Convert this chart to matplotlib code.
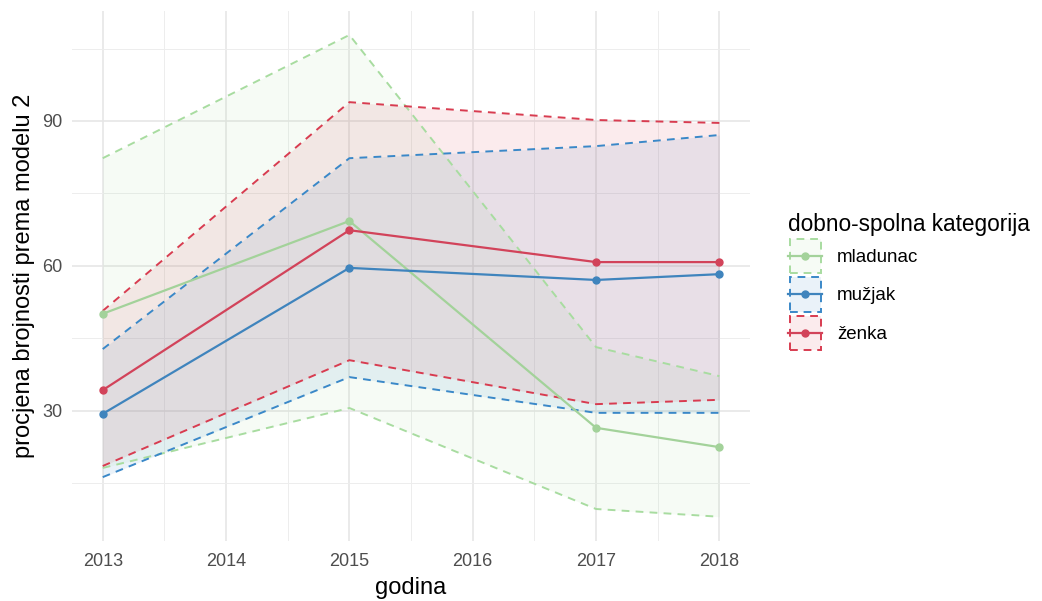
import numpy as np
import matplotlib.pyplot as plt
from matplotlib.patches import Rectangle
from matplotlib.lines import Line2D
from matplotlib.colors import to_rgba

plt.rcParams["font.family"] = ["Liberation Sans", "DejaVu Sans"]

# =========================
# Data
# =========================
years = [2013, 2015, 2017, 2018]
categories = ["mladunac", "mužjak", "ženka"]

mladunac_mean = [50.1, 69.3, 26.5, 22.5]
mladunac_low = [18.2, 30.6, 9.7, 8.1]
mladunac_high = [82.3, 107.8, 43.2, 37.2]

muzjak_mean = [29.4, 59.6, 57.1, 58.3]
muzjak_low = [16.3, 37.0, 29.6, 29.6]
muzjak_high = [42.8, 82.3, 84.8, 87.1]

zenka_mean = [34.3, 67.4, 60.8, 60.8]
zenka_low = [18.6, 40.5, 31.4, 32.3]
zenka_high = [50.7, 93.9, 90.2, 89.6]

means = [mladunac_mean, muzjak_mean, zenka_mean]
lows = [mladunac_low, muzjak_low, zenka_low]
highs = [mladunac_high, muzjak_high, zenka_high]

line_colors = ["#a3d29a", "#3f84bd", "#d2435a"]
dash_colors = ["#a8dca0", "#3a88c8", "#d83c50"]

x_ticks = [2013, 2014, 2015, 2016, 2017, 2018]
y_ticks = [30, 60, 90]


class RibbonKey:
    """Legend key: dashed ribbon box with line + point through the middle."""

    def __init__(self, line_color, dash_color):
        self.line_color = line_color
        self.dash_color = dash_color

    def legend_artist(self, legend, orig_handle, fontsize, handlebox):
        x0, y0 = handlebox.xdescent, handlebox.ydescent
        w, h = handlebox.width, handlebox.height
        tr = handlebox.get_transform()
        rect = Rectangle((-x0 + 1, -y0 + 1), w - 2, h - 2,
                         facecolor=to_rgba(self.dash_color, 0.1),
                         edgecolor=self.dash_color, linewidth=1.4,
                         linestyle=(0, (4, 3)), transform=tr)
        ym = -y0 + h / 2
        ln = Line2D([-x0, -x0 + w], [ym, ym], color=self.line_color, linewidth=1.6, transform=tr)
        pt = Line2D([-x0 + w / 2], [ym], color=self.line_color, marker="o", markersize=5,
                    linestyle="none", transform=tr)
        handlebox.add_artist(rect)
        handlebox.add_artist(ln)
        handlebox.add_artist(pt)
        return rect


# =========================
# Figure
# =========================
fig = plt.figure(figsize=(10.42, 6.01), dpi=100)
ax = fig.add_axes([0.069, 0.1, 0.651, 0.882])

for i in range(len(categories)):
    ax.fill_between(years, lows[i], highs[i], color=dash_colors[i], alpha=0.1, linewidth=0, zorder=1)

for i in range(len(categories)):
    for band in (lows[i], highs[i]):
        ax.plot(years, band, color=dash_colors[i], linewidth=1.4, dashes=(4, 3.2), zorder=2)

for i in range(len(categories)):
    ax.plot(years, means[i], color=line_colors[i], linewidth=1.6, marker="o", markersize=5, zorder=3)

ax.set_xlim(2012.75, 2018.25)
ax.set_ylim(3.1, 112.8)
ax.set_xticks(x_ticks)
ax.set_yticks(y_ticks)
ax.set_xticks([2012.5 + k for k in range(1, 6)], minor=True)
ax.set_yticks([15, 45, 75, 105], minor=True)

ax.grid(which="major", color="#e6e6e6", linewidth=1.2)
ax.grid(which="minor", color="#ededed", linewidth=0.7)
ax.set_axisbelow(True)
for s in ax.spines.values():
    s.set_visible(False)
ax.tick_params(which="both", length=0, labelsize=13, labelcolor="#4d4d4d")
ax.tick_params(axis="x", pad=9)
ax.tick_params(axis="y", pad=7)

ax.set_xlabel("godina", fontsize=17, labelpad=5)
ax.set_ylabel("procjena brojnosti prema modelu 2", fontsize=17, labelpad=5)

# legend
keys = [object() for _ in categories]
hmap = {k: RibbonKey(line_colors[i], dash_colors[i]) for i, k in enumerate(keys)}
leg = fig.legend(keys, categories, handler_map=hmap,
                 loc="center left", bbox_to_anchor=(0.744, 0.53), frameon=False,
                 title="dobno-spolna kategorija", title_fontsize=16.3, fontsize=13.5,
                 handlelength=1.8, handleheight=2.7, handletextpad=0.8, labelspacing=0.05,
                 borderpad=0.2)
leg._legend_box.align = "left"

fig.savefig("out.png", dpi=100)
